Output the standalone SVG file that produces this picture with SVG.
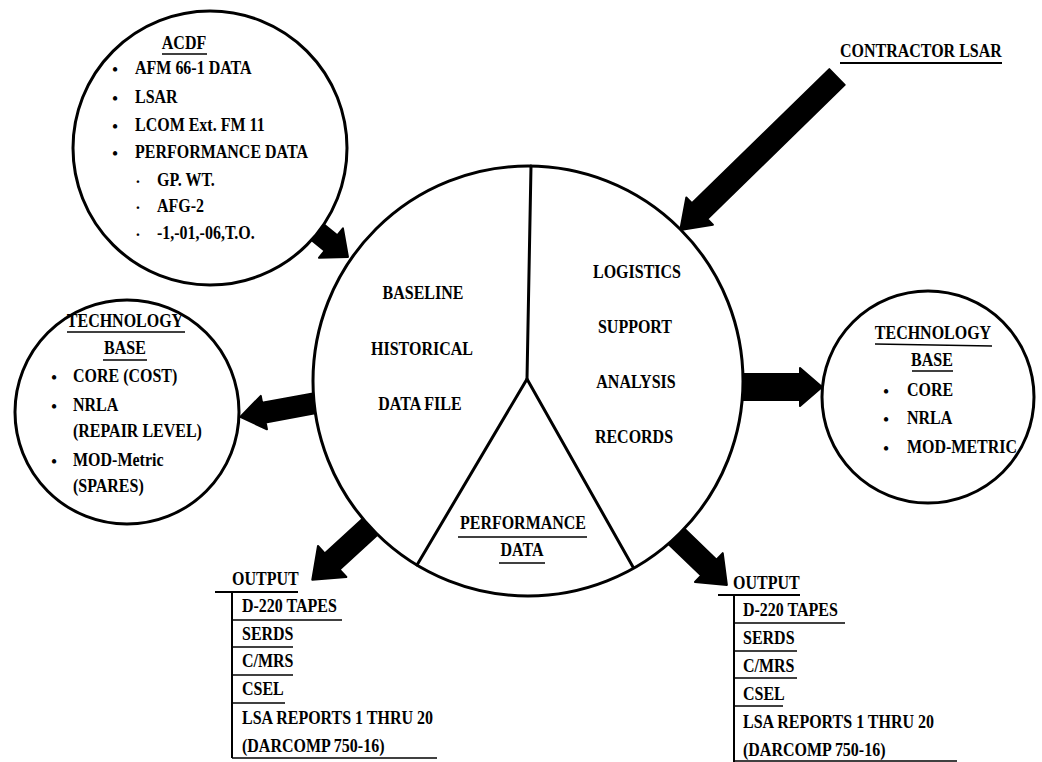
<svg xmlns="http://www.w3.org/2000/svg" width="1042" height="762" viewBox="0 0 1042 762">
  <style>
    text { font-family: "Liberation Serif", "Times New Roman", serif; font-weight: bold; font-size: 16px; fill: #000;
           transform-box: fill-box; transform-origin: 0 100%; transform: scaleY(1.22); }
    text.dot { transform: none; }
    .mid { text-anchor: middle; }
    .ring { fill: #fff; stroke: #000; stroke-width: 3; }
    .split { fill: none; stroke: #000; stroke-width: 3; stroke-linecap: round; }
    .ul { stroke: #000; stroke-width: 1.6; fill: none; }
    .rule { stroke: #000; stroke-width: 2; fill: none; }
    .fat { fill: #000; stroke: #000; stroke-width: 2; stroke-linejoin: round; }
  </style>

  <!-- heavy block arrows -->
  <g id="connectors">
    <polygon class="fat" transform="translate(837,77) rotate(135.7)" points="0,-11 192,-11 192,-19 219,0 192,19 192,11 0,11"/>
    <polygon class="fat" transform="translate(310,226) rotate(39.2)" points="0,-10 27,-10 27,-19 49,0 27,19 27,10 0,10"/>
    <polygon class="fat" transform="translate(316,403) rotate(169.6)" points="0,-10 53,-10 53,-17 77,0 53,17 53,10 0,10"/>
    <polygon class="fat" transform="translate(738,387)" points="0,-13 62,-13 62,-19 84,0 62,19 62,13 0,13"/>
    <polygon class="fat" transform="translate(372,525) rotate(137.5)" points="0,-11 54,-11 54,-21 81,0 54,21 54,11 0,11"/>
    <polygon class="fat" transform="translate(675,535) rotate(43.9)" points="0,-11 47,-11 47,-20 72,0 47,20 47,11 0,11"/>
  </g>

  <!-- ACDF source circle -->
  <g id="acdf">
    <circle class="ring" cx="210" cy="148" r="137"/>
    <text class="mid" x="184" y="50">ACDF</text>
    <line class="ul" x1="162" y1="54" x2="207" y2="54"/>
    <text class="mid dot" x="115" y="75">•</text><text x="135" y="75">AFM 66-1 DATA</text>
    <text class="mid dot" x="115" y="104">•</text><text x="135" y="104">LSAR</text>
    <text class="mid dot" x="115" y="132">•</text><text x="135" y="132">LCOM Ext. FM 11</text>
    <text class="mid dot" x="115" y="159">•</text><text x="135" y="159">PERFORMANCE DATA</text>
    <text class="mid dot" x="138" y="187">·</text><text x="157" y="187">GP. WT.</text>
    <text class="mid dot" x="138" y="213">·</text><text x="157" y="213">AFG-2</text>
    <text class="mid dot" x="138" y="240">·</text><text x="157" y="240">-1,-01,-06,T.O.</text>
  </g>

  <!-- contractor input label -->
  <g id="contractor-lsar">
    <text x="840" y="58">CONTRACTOR LSAR</text>
    <line class="rule" x1="840" y1="63" x2="1002" y2="63"/>
  </g>

  <!-- central data circle split into three sectors -->
  <g id="central-file">
    <circle class="ring" cx="528" cy="381" r="215"/>
    <polyline class="split" points="531,166 527,379 417,565"/>
    <line class="split" x1="527" y1="379" x2="633" y2="567"/>
    <g id="baseline-file">
      <text class="mid" x="423" y="300">BASELINE</text>
      <text class="mid" x="422" y="356">HISTORICAL</text>
      <text class="mid" x="420" y="411">DATA FILE</text>
    </g>
    <g id="lsa-records">
      <text class="mid" x="637" y="279">LOGISTICS</text>
      <text class="mid" x="635" y="334">SUPPORT</text>
      <text class="mid" x="636" y="389">ANALYSIS</text>
      <text class="mid" x="634" y="444">RECORDS</text>
    </g>
    <g id="performance-data">
      <text class="mid" x="523" y="530">PERFORMANCE</text>
      <line class="ul" x1="458" y1="537" x2="587" y2="537"/>
      <text class="mid" x="522" y="557">DATA</text>
      <line class="ul" x1="499" y1="563" x2="545" y2="563"/>
    </g>
  </g>

  <!-- left technology base -->
  <g id="tech-base-left">
    <circle class="ring" cx="127" cy="412" r="112"/>
    <text class="mid" x="125" y="328">TECHNOLOGY</text>
    <line class="ul" x1="67" y1="332" x2="185" y2="332"/>
    <text class="mid" x="125" y="355">BASE</text>
    <line class="ul" x1="103" y1="360" x2="147" y2="360"/>
    <text class="mid dot" x="54" y="383">•</text><text x="73" y="383">CORE (COST)</text>
    <text class="mid dot" x="54" y="412">•</text><text x="73" y="412">NRLA</text>
    <text x="73" y="438">(REPAIR LEVEL)</text>
    <text class="mid dot" x="54" y="467">•</text><text x="73" y="467">MOD-Metric</text>
    <text x="73" y="493">(SPARES)</text>
  </g>

  <!-- right technology base -->
  <g id="tech-base-right">
    <circle class="ring" cx="928" cy="397" r="106"/>
    <text class="mid" x="933" y="340">TECHNOLOGY</text>
    <line class="ul" x1="875" y1="344" x2="992" y2="346"/>
    <text class="mid" x="932" y="367">BASE</text>
    <line class="ul" x1="912" y1="371" x2="953" y2="371"/>
    <text class="mid dot" x="886" y="397">•</text><text x="907" y="397">CORE</text>
    <text class="mid dot" x="886" y="425">•</text><text x="907" y="425">NRLA</text>
    <text class="mid dot" x="886" y="454">•</text><text x="907" y="454">MOD-METRIC</text>
  </g>

  <!-- output list, lower left -->
  <g id="output-left">
    <text x="232" y="586">OUTPUT</text>
    <line class="rule" x1="215" y1="592" x2="298" y2="592"/>
    <line class="rule" x1="232" y1="592" x2="232" y2="758"/>
    <text x="242" y="613">D-220 TAPES</text>
    <line class="ul" x1="232" y1="620" x2="342" y2="620"/>
    <text x="242" y="641">SERDS</text>
    <line class="ul" x1="232" y1="647" x2="293" y2="647"/>
    <text x="242" y="668">C/MRS</text>
    <line class="ul" x1="232" y1="675" x2="293" y2="675"/>
    <text x="242" y="696">CSEL</text>
    <line class="ul" x1="232" y1="703" x2="285" y2="703"/>
    <text x="242" y="725">LSA REPORTS 1 THRU 20</text>
    <text x="242" y="753">(DARCOMP 750-16)</text>
    <line class="ul" x1="232" y1="758" x2="437" y2="758"/>
  </g>

  <!-- output list, lower right -->
  <g id="output-right">
    <text x="733" y="590">OUTPUT</text>
    <line class="rule" x1="718" y1="595" x2="800" y2="595"/>
    <line class="rule" x1="734" y1="595" x2="734" y2="762"/>
    <text x="743" y="617">D-220 TAPES</text>
    <line class="ul" x1="734" y1="623" x2="845" y2="623"/>
    <text x="743" y="645">SERDS</text>
    <line class="ul" x1="734" y1="651" x2="797" y2="651"/>
    <text x="743" y="673">C/MRS</text>
    <line class="ul" x1="734" y1="678" x2="797" y2="678"/>
    <text x="743" y="701">CSEL</text>
    <line class="ul" x1="734" y1="706" x2="783" y2="706"/>
    <text x="743" y="729">LSA REPORTS 1 THRU 20</text>
    <text x="743" y="757">(DARCOMP 750-16)</text>
    <line class="ul" x1="734" y1="761" x2="957" y2="761"/>
  </g>
</svg>
